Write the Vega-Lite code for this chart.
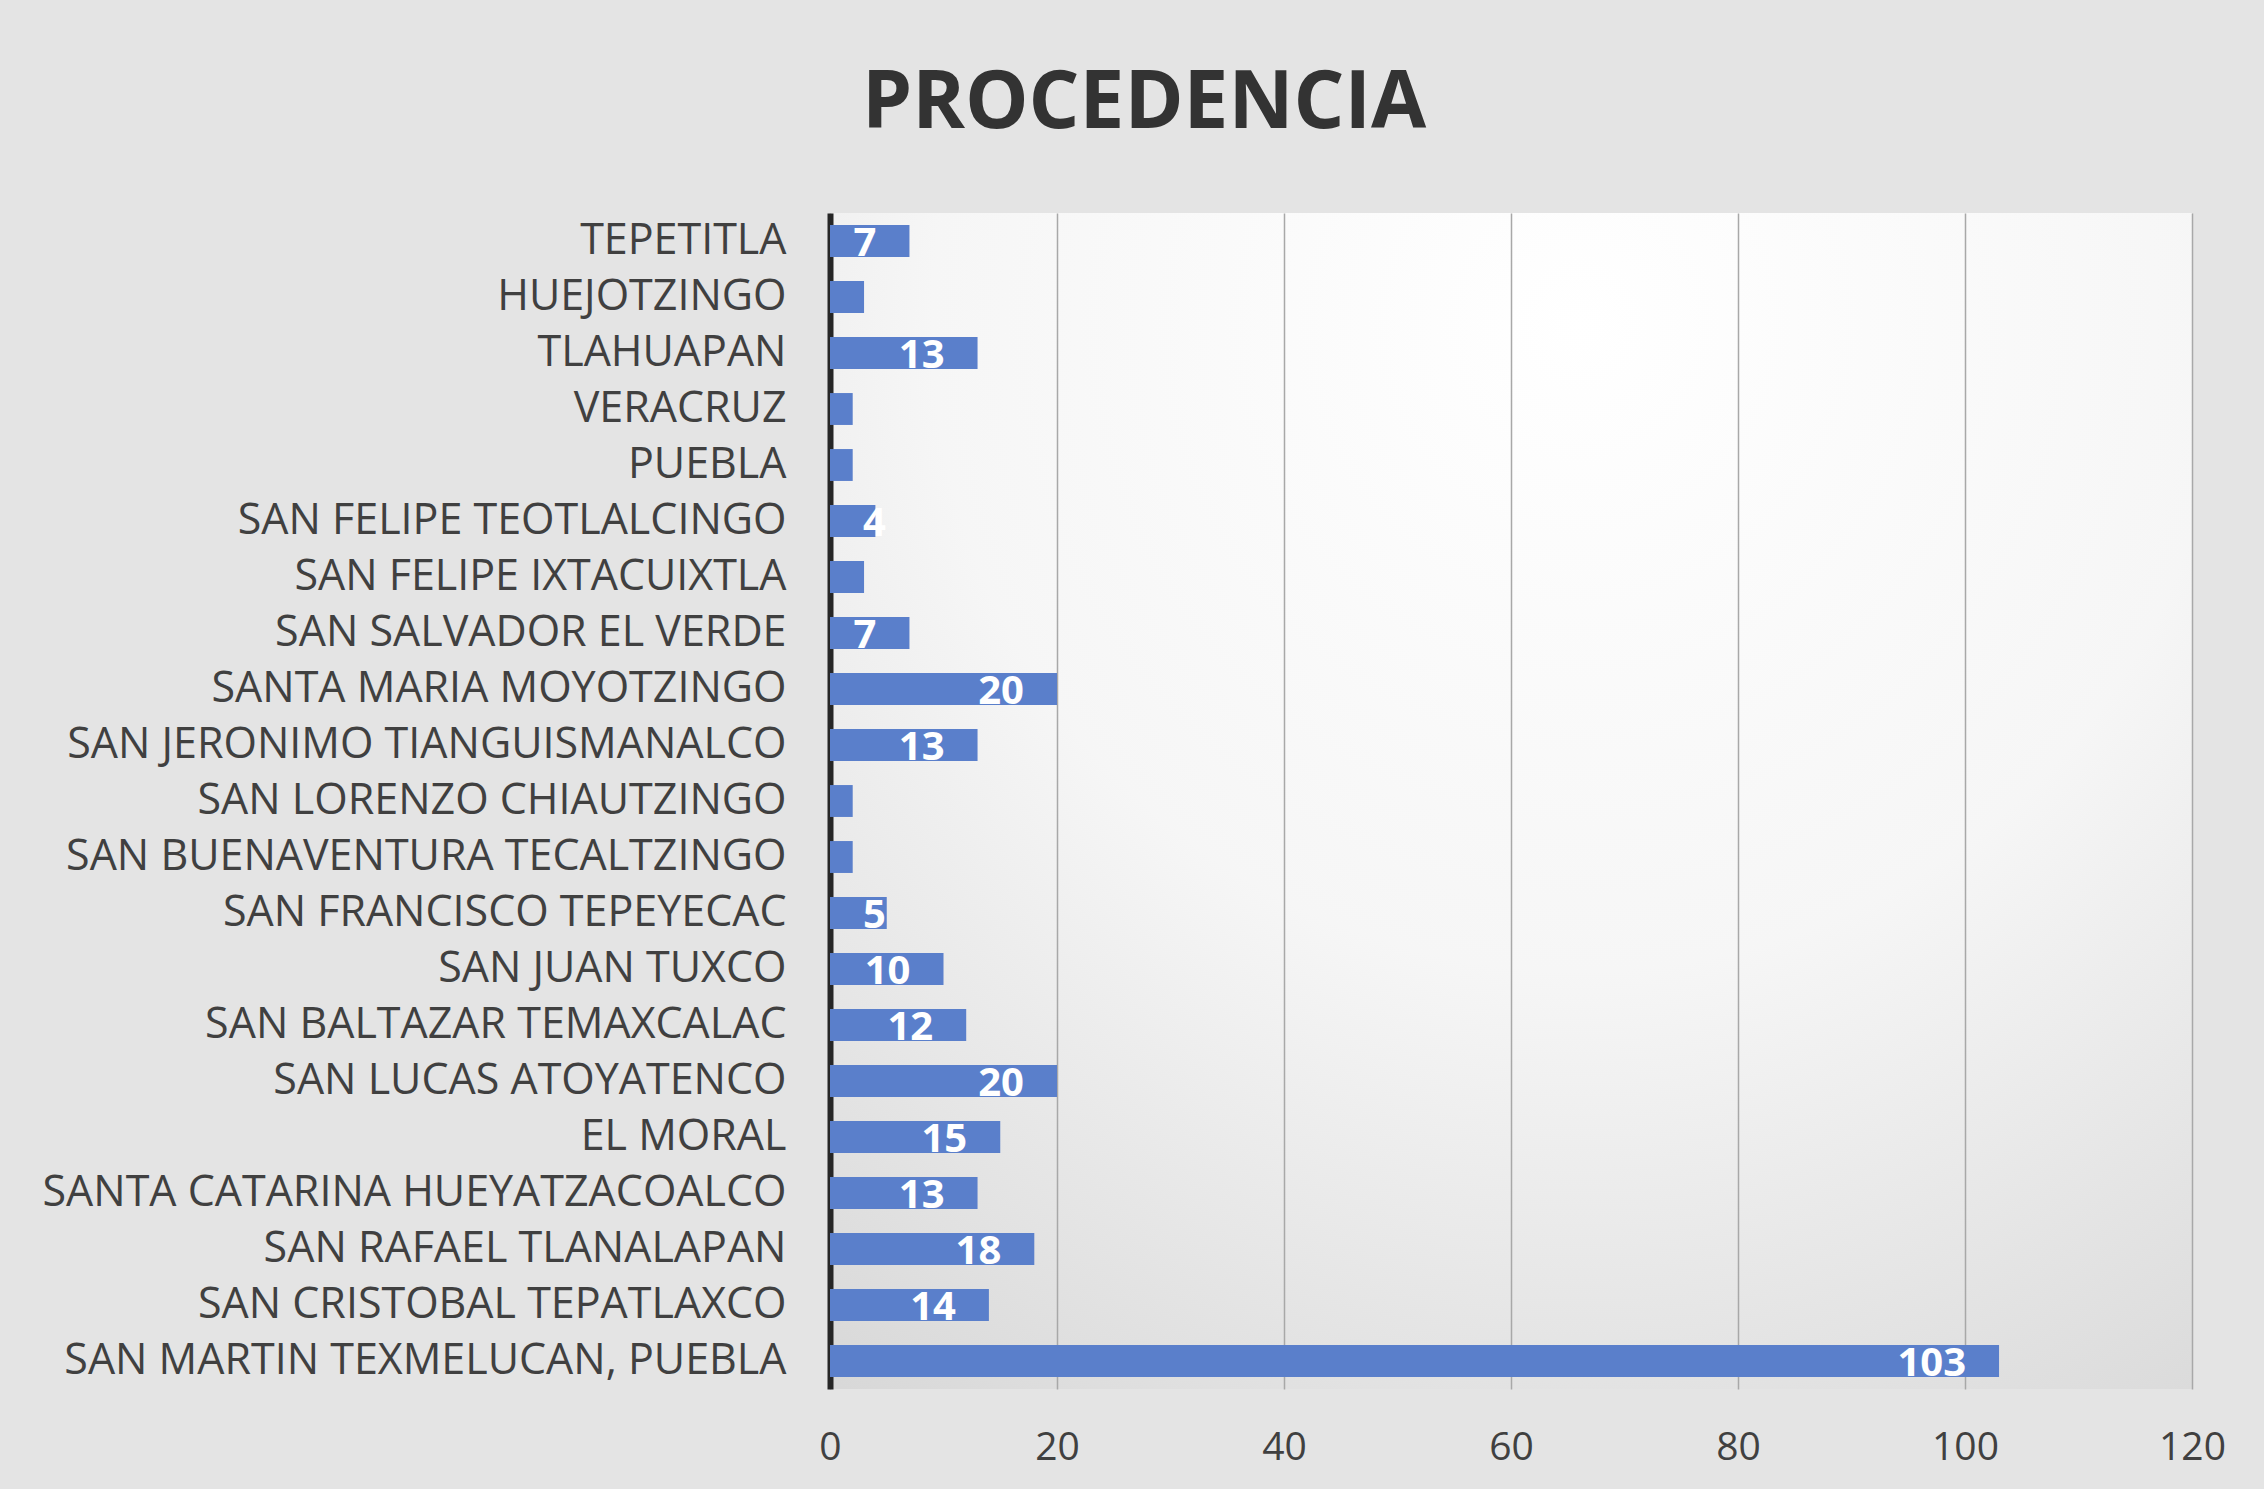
{
  "$schema": "https://vega.github.io/schema/vega-lite/v6.json",
  "autosize": "none",
  "width": 1362,
  "height": 1176,
  "padding": {"left": 830, "top": 213, "right": 72, "bottom": 100},
  "background": "#e4e4e4",
  "title": {
    "text": "PROCEDENCIA",
    "font": "Open Sans",
    "fontSize": 80,
    "fontWeight": "bold",
    "color": "#333333",
    "anchor": "middle",
    "dx": -367,
    "offset": 68
  },
  "config": {
    "view": {
      "stroke": null,
      "fill": {
        "gradient": "radial",
        "x1": 0.55, "y1": 0.15, "r1": 0,
        "x2": 0.55, "y2": 0.15, "r2": 0.95,
        "stops": [
          {"offset": 0, "color": "#ffffff"},
          {"offset": 0.5, "color": "#f6f6f6"},
          {"offset": 1, "color": "#d8d8d8"}
        ]
      }
    },
    "font": "Open Sans"
  },
  "data": {
    "values": [
      {"lugar": "TEPETITLA", "n": 7},
      {"lugar": "HUEJOTZINGO", "n": 3},
      {"lugar": "TLAHUAPAN", "n": 13},
      {"lugar": "VERACRUZ", "n": 2},
      {"lugar": "PUEBLA", "n": 2},
      {"lugar": "SAN FELIPE TEOTLALCINGO", "n": 4},
      {"lugar": "SAN FELIPE IXTACUIXTLA", "n": 3},
      {"lugar": "SAN SALVADOR EL VERDE", "n": 7},
      {"lugar": "SANTA MARIA MOYOTZINGO", "n": 20},
      {"lugar": "SAN JERONIMO TIANGUISMANALCO", "n": 13},
      {"lugar": "SAN LORENZO CHIAUTZINGO", "n": 2},
      {"lugar": "SAN BUENAVENTURA TECALTZINGO", "n": 2},
      {"lugar": "SAN FRANCISCO TEPEYECAC", "n": 5},
      {"lugar": "SAN JUAN TUXCO", "n": 10},
      {"lugar": "SAN BALTAZAR TEMAXCALAC", "n": 12},
      {"lugar": "SAN LUCAS ATOYATENCO", "n": 20},
      {"lugar": "EL MORAL", "n": 15},
      {"lugar": "SANTA CATARINA HUEYATZACOALCO", "n": 13},
      {"lugar": "SAN RAFAEL TLANALAPAN", "n": 18},
      {"lugar": "SAN CRISTOBAL TEPATLAXCO", "n": 14},
      {"lugar": "SAN MARTIN TEXMELUCAN, PUEBLA", "n": 103}
    ]
  },
  "encoding": {
    "y": {
      "field": "lugar",
      "type": "nominal",
      "sort": null,
      "scale": {"paddingInner": 0.43, "paddingOuter": 0.215},
      "axis": {
        "title": null,
        "domain": true,
        "domainColor": "#262626",
        "domainWidth": 6,
        "ticks": false,
        "labelFont": "Open Sans",
        "labelFontSize": 43,
        "labelColor": "#404040",
        "labelPadding": 44,
        "labelLimit": 900
      }
    }
  },
  "layer": [
    {
      "mark": {"type": "bar", "color": "#5A7FCB"},
      "encoding": {
        "x": {
          "field": "n",
          "type": "quantitative",
          "scale": {"domain": [0, 120], "nice": false},
          "axis": {
            "title": null,
            "values": [0, 20, 40, 60, 80, 100, 120],
            "domain": false,
            "ticks": false,
            "grid": true,
            "gridColor": "#a8a8a8",
            "gridWidth": 1.5,
            "labelFlush": false,
            "labelFont": "Open Sans",
            "labelFontSize": 39,
            "labelColor": "#404040",
            "labelPadding": 39
          }
        }
      }
    },
    {
      "transform": [{"filter": "datum.n >= 7"}],
      "mark": {"type": "text", "align": "right", "baseline": "middle", "dx": -33, "dy": 3, "color": "white", "fontWeight": "bold", "fontSize": 40, "font": "Open Sans"},
      "encoding": {
        "x": {"field": "n", "type": "quantitative"},
        "text": {"field": "n", "type": "quantitative"}
      }
    },
    {
      "transform": [{"filter": "datum.n >= 4 && datum.n < 7"}],
      "mark": {"type": "text", "align": "left", "baseline": "middle", "dx": 33, "dy": 3, "color": "white", "fontWeight": "bold", "fontSize": 40, "font": "Open Sans"},
      "encoding": {
        "x": {"datum": 0, "type": "quantitative"},
        "text": {"field": "n", "type": "quantitative"}
      }
    }
  ]
}
